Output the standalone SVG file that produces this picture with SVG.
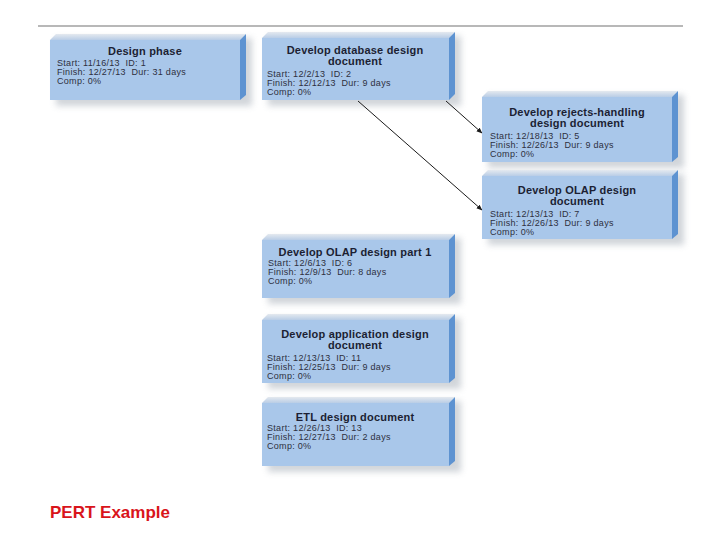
<svg xmlns="http://www.w3.org/2000/svg" width="720" height="540" viewBox="0 0 720 540">
<defs>
<linearGradient id="topg" x1="0" y1="0" x2="0" y2="1">
<stop offset="0" stop-color="#e4e9ef"/>
<stop offset="1" stop-color="#b9cde6"/>
</linearGradient>
<filter id="sh" x="-10%" y="-10%" width="130%" height="140%">
<feGaussianBlur stdDeviation="3"/>
</filter>
<marker id="ah" viewBox="0 0 10 10" refX="9" refY="5" markerWidth="6" markerHeight="6" orient="auto">
<path d="M0,1 L10,5 L0,9 z" fill="#1a1a1a"/>
</marker>
</defs>
<style>
.front{fill:#a9c7ea}
.top{fill:url(#topg)}
.side{fill:#5e93d1}
.shadow{fill:#9aa3ad;opacity:0.45;filter:url(#sh)}
.t{font-family:"Liberation Sans",Arial,sans-serif;font-weight:bold;font-size:11px;letter-spacing:0.2px;fill:#1c1f33;text-anchor:middle}
.d{font-family:"Liberation Sans",Arial,sans-serif;font-size:9px;letter-spacing:0.3px;fill:#2e3040;white-space:pre}
.conn{stroke:#1a1a1a;stroke-width:1;fill:none;marker-end:url(#ah)}
</style>
<rect width="720" height="540" fill="#ffffff"/>
<line x1="38" y1="26" x2="683" y2="26" stroke="#a0a0a0" stroke-width="1.5"/>

<g id="n1">
<rect class="shadow" x="56" y="38" width="196" height="68"/>
<polygon class="top" points="50,40 56,34 246,34 240,40"/>
<polygon class="side" points="240,40 246,34 246,95 240,100"/>
<rect class="front" x="50" y="40" width="190" height="60"/>
<text class="t" x="145" y="55">Design phase</text>
<text class="d" x="57" y="66">Start: 11/16/13  ID: 1</text>
<text class="d" x="57" y="75">Finish: 12/27/13  Dur: 31 days</text>
<text class="d" x="57" y="84">Comp: 0%</text>
</g>

<g id="n2">
<rect class="shadow" x="268" y="36" width="193" height="70"/>
<polygon class="top" points="262,38 268,32 455,32 449,38"/>
<polygon class="side" points="449,38 455,32 455,94 449,100"/>
<rect class="front" x="262" y="38" width="187" height="62"/>
<text class="t" x="355" y="54">Develop database design</text>
<text class="t" x="355" y="65">document</text>
<text class="d" x="267" y="77">Start: 12/2/13  ID: 2</text>
<text class="d" x="267" y="86">Finish: 12/12/13  Dur: 9 days</text>
<text class="d" x="267" y="95">Comp: 0%</text>
</g>

<g id="n3">
<rect class="shadow" x="488" y="95" width="196" height="73"/>
<polygon class="top" points="482,97 488,91 678,91 672,97"/>
<polygon class="side" points="672,97 678,91 678,157 672,162"/>
<rect class="front" x="482" y="97" width="190" height="65"/>
<text class="t" x="577" y="116">Develop rejects-handling</text>
<text class="t" x="577" y="127">design document</text>
<text class="d" x="490" y="139">Start: 12/18/13  ID: 5</text>
<text class="d" x="490" y="148">Finish: 12/26/13  Dur: 9 days</text>
<text class="d" x="490" y="157">Comp: 0%</text>
</g>

<g id="n4">
<rect class="shadow" x="488" y="174" width="196" height="71"/>
<polygon class="top" points="482,176 488,170 678,170 672,176"/>
<polygon class="side" points="672,176 678,170 678,234 672,239"/>
<rect class="front" x="482" y="176" width="190" height="63"/>
<text class="t" x="577" y="194">Develop OLAP design</text>
<text class="t" x="577" y="205">document</text>
<text class="d" x="490" y="217">Start: 12/13/13  ID: 7</text>
<text class="d" x="490" y="226">Finish: 12/26/13  Dur: 9 days</text>
<text class="d" x="490" y="235">Comp: 0%</text>
</g>

<g id="n5">
<rect class="shadow" x="268" y="238" width="193" height="66"/>
<polygon class="top" points="262,240 268,234 455,234 449,240"/>
<polygon class="side" points="449,240 455,234 455,293 449,298"/>
<rect class="front" x="262" y="240" width="187" height="58"/>
<text class="t" x="355" y="256">Develop OLAP design part 1</text>
<text class="d" x="268" y="266">Start: 12/6/13  ID: 6</text>
<text class="d" x="268" y="275">Finish: 12/9/13  Dur: 8 days</text>
<text class="d" x="268" y="284">Comp: 0%</text>
</g>

<g id="n6">
<rect class="shadow" x="268" y="318" width="193" height="71"/>
<polygon class="top" points="262,320 268,314 455,314 449,320"/>
<polygon class="side" points="449,320 455,314 455,378 449,383"/>
<rect class="front" x="262" y="320" width="187" height="63"/>
<text class="t" x="355" y="338">Develop application design</text>
<text class="t" x="355" y="349">document</text>
<text class="d" x="267" y="361">Start: 12/13/13  ID: 11</text>
<text class="d" x="267" y="370">Finish: 12/25/13  Dur: 9 days</text>
<text class="d" x="267" y="379">Comp: 0%</text>
</g>

<g id="n7">
<rect class="shadow" x="268" y="401" width="193" height="71"/>
<polygon class="top" points="262,403 268,397 455,397 449,403"/>
<polygon class="side" points="449,403 455,397 455,461 449,466"/>
<rect class="front" x="262" y="403" width="187" height="63"/>
<text class="t" x="355" y="421">ETL design document</text>
<text class="d" x="267" y="431">Start: 12/26/13  ID: 13</text>
<text class="d" x="267" y="440">Finish: 12/27/13  Dur: 2 days</text>
<text class="d" x="267" y="449">Comp: 0%</text>
</g>

<g id="connectors">
<line class="conn" x1="446" y1="101" x2="482" y2="133"/>
<line class="conn" x1="358" y1="101" x2="482" y2="210"/>
</g>

<text x="50" y="518" font-family="'Liberation Sans',Arial,sans-serif" font-weight="bold" font-size="17" fill="#d9141b">PERT Example</text>
</svg>
